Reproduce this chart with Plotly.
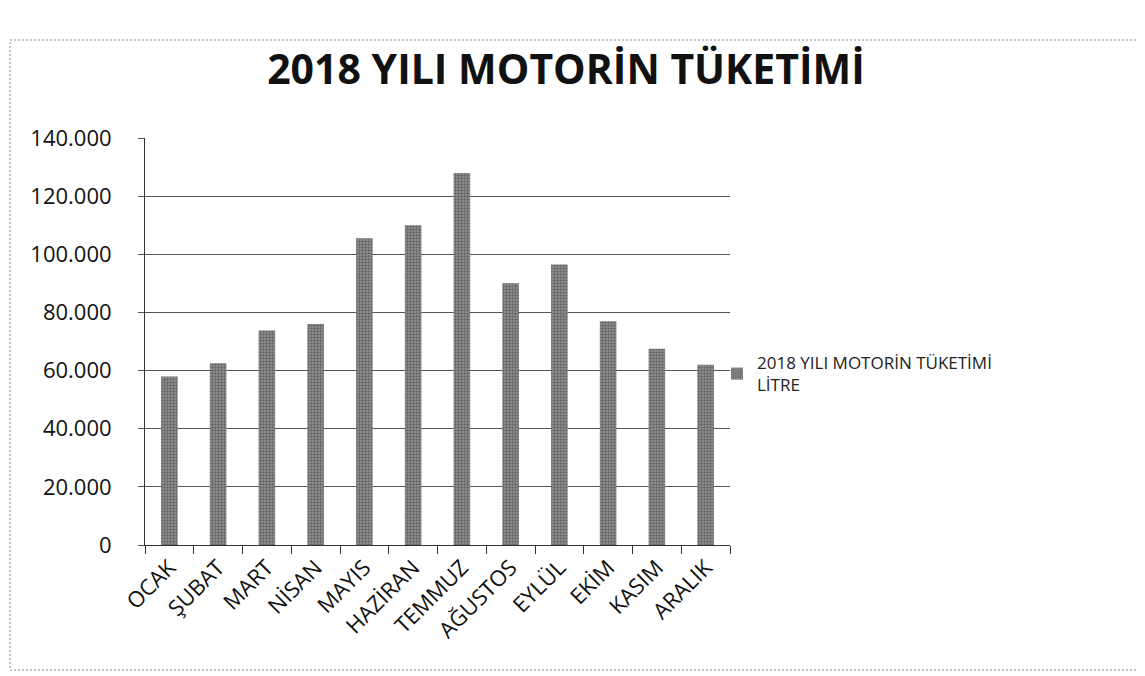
import plotly.graph_objects as go

months = ["OCAK", "ŞUBAT", "MART", "NİSAN", "MAYIS", "HAZİRAN",
          "TEMMUZ", "AĞUSTOS", "EYLÜL", "EKİM", "KASIM", "ARALIK"]
litres = [58000, 62500, 73800, 76000, 105500, 110000,
          128000, 90000, 96500, 77000, 67500, 62000]
y_ticks = [0, 20000, 40000, 60000, 80000, 100000, 120000, 140000]
series_name = "2018 YILI MOTORİN TÜKETİMİ<br>LİTRE"
title_text = "2018 YILI MOTORİN TÜKETİMİ"

OFF = 8  # page body margin
W, H = 1145 - OFF, 676 - OFF
# plot area in reference pixel coords
L, R, T, B = 145, 730, 138, 545
L0, R0, T0, B0 = L - OFF, R - OFF, T - OFF, B - OFF
pw, ph = R - L, B - T

def px_x(x):
    return (x - L) / pw

def px_y(y):
    return (B - y) / ph

fig = go.Figure()
fig.add_trace(go.Bar(
    x=months, y=litres, name=series_name,
    marker=dict(color="#959595",
                pattern=dict(shape=".", fgcolor="#333333", size=3, solidity=0.5),
                line=dict(width=0)),
    showlegend=True,
))

fig.update_layout(
    width=W, height=H,
    margin=dict(l=L0, r=W - R0, t=T0, b=H - B0, autoexpand=False),
    paper_bgcolor="white", plot_bgcolor="white",
    separators=",.",
    font=dict(family="Open Sans, Noto Sans, sans-serif", color="#111"),
    title=dict(text="<b>" + title_text + "</b>", x=(566 - OFF) / W, xanchor="center",
               y=1 - (70 - OFF) / H, yanchor="middle",
               font=dict(size=41, family="Open Sans, sans-serif", color="#111")),
    bargap=0.66,
    showlegend=True,
    legend=dict(x=px_x(717), y=px_y(374), xanchor="left", yanchor="middle",
                font=dict(size=17, color="#222"), bgcolor="rgba(0,0,0,0)",
                itemwidth=30),
    xaxis=dict(type="category", tickangle=-45, tickfont=dict(size=22, color="#111"),
               showline=True, linecolor="#333", linewidth=1,
               ticks="outside", tickson="boundaries", ticklen=8, tickcolor="#333",
               showgrid=False),
    yaxis=dict(range=[0, 140000], tickvals=y_ticks, tickformat=",d",
               tickfont=dict(size=22, color="#111"), ticklabelstandoff=22,
               showline=True, linecolor="#333", linewidth=1,
               ticks="outside", ticklen=6, tickcolor="#555",
               showgrid=True, gridcolor="#555", gridwidth=1, zeroline=False),
    shapes=[dict(type="rect", xref="paper", yref="paper",
                 x0=px_x(10), x1=px_x(1138), y0=px_y(670), y1=px_y(40),
                 line=dict(color="#888", width=1, dash="2px,2px"), layer="below")],
)

fig.write_html("out.html")
